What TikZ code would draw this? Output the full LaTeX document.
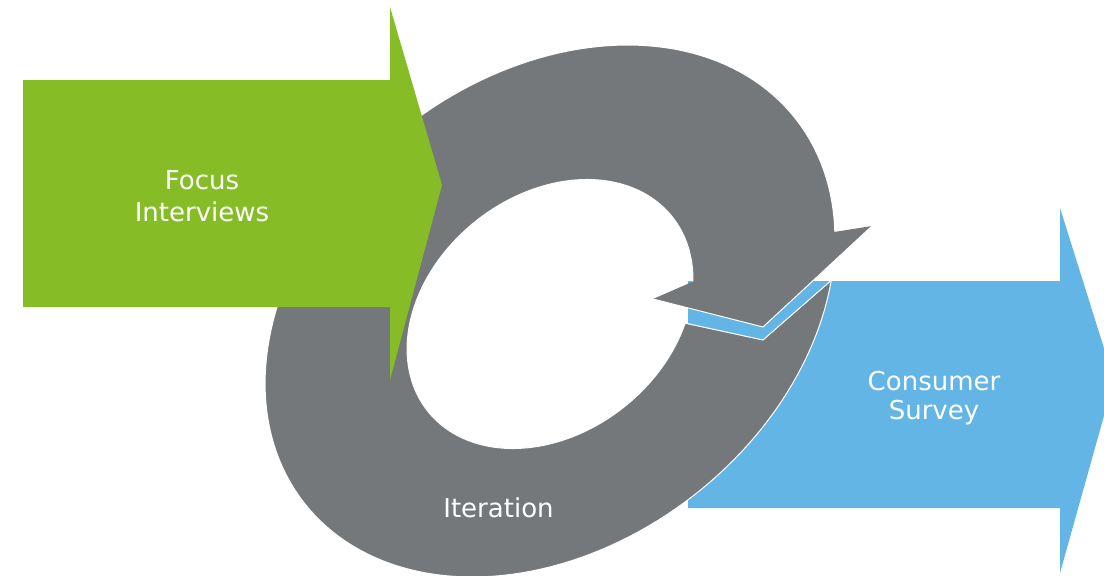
\documentclass[tikz,border=0pt]{standalone}
\usepackage{fontspec}
\setmainfont{DejaVu Sans}
\definecolor{leafgreen}{HTML}{86BC25}
\definecolor{slategray}{HTML}{75787B}
\definecolor{skyblue}{HTML}{62B5E5}
\begin{document}
\begin{tikzpicture}[x=1pt,y=-1pt,
  labeltext/.style={text=white, align=center, inner sep=0pt},
  outline/.style={draw=white, line width=1pt, line join=miter}]
\useasboundingbox (0,0) rectangle (1104,576);
\clip (0,0) rectangle (1104,576);

% blue block arrow (bottom layer)
\fill[skyblue] (688,281) -- (1060,281) -- (1060,208) -- (1114,380)
  -- (1060,573) -- (1060,508) -- (688,508) -- cycle;

% grey ring of the circular arrow: tilted outer ellipse minus tilted inner ellipse
\filldraw[fill=slategray, outline, even odd rule]
  plot[variable=\t, domain=0:360, samples=181]
    ({550+246.1*cos(\t)+143.6*sin(\t)}, {311-191.6*cos(\t)+184.5*sin(\t)}) -- cycle
  plot[variable=\t, domain=0:360, samples=181]
    ({550+122.4*cos(\t)+73.8*sin(\t)}, {314-97*cos(\t)+93.2*sin(\t)}) -- cycle;

% gap between head and tail: show what lies underneath
\begin{scope}
  \clip (640,303.5) -- (900,213.5) -- (900,221) -- (763,340) -- (640,314) -- cycle;
  \fill[white] (600,150) rectangle (950,400);
  \fill[skyblue] (688,281) rectangle (1000,508);
\end{scope}

% arrow head of the ring
\fill[slategray] (692,282) -- (834,232) -- (872,226) -- (763,327) -- (653,299) -- cycle;
\draw[outline] (653,299) -- (763,327) -- (872,226);
% notched tail of the ring
\draw[outline] (680,322) -- (763,340) -- (834,278);

% green block arrow (top layer)
\fill[leafgreen] (23,80) -- (390,80) -- (390,7) -- (442,185)
  -- (390,380) -- (390,307) -- (23,307) -- cycle;

% labels
\node[labeltext, font=\fontsize{26}{32}\selectfont] (focus) at (202,196) {Focus\\Interviews};
\node[labeltext, font=\fontsize{26}{29.5}\selectfont] (survey) at (934,398) {Consumer\\Survey};
\node[labeltext, font=\fontsize{26}{30}\selectfont, anchor=base] (iteration) at (498.5,517) {Iteration};
\end{tikzpicture}
\end{document}
